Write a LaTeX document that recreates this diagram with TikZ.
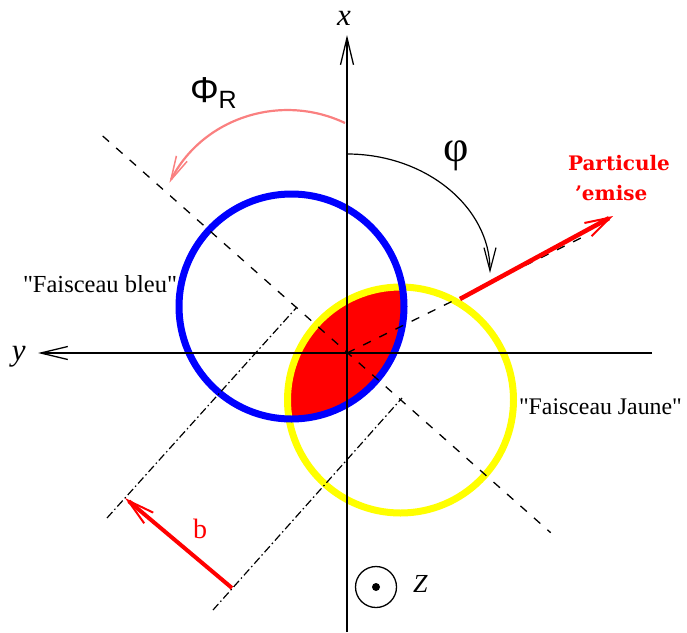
\documentclass[tikz,border=0pt]{standalone}
\usepackage{fontspec}
\setmainfont{Liberation Serif}[Ligatures=TeXOff]
\setsansfont{Liberation Sans}[Ligatures=TeXOff]
\newfontfamily\djserif{DejaVu Serif}[Ligatures=TeXOff]
\usetikzlibrary{arrows.meta}
\definecolor{beamblue}{RGB}{0,0,255}
\definecolor{beamyellow}{RGB}{255,255,0}
\definecolor{pinkarc}{RGB}{250,128,128}
\definecolor{partred}{RGB}{255,0,0}
\begin{document}
\begin{tikzpicture}[x=1pt,y=-1pt,
  axisline/.style={line width=1.3pt,-{Straight Barb[length=27pt,width=13pt]}},
  centerline/.style={line width=1.3pt,dash pattern=on 8.5pt off 9.5pt},
  dashdotline/.style={line width=1.2pt,dash pattern=on 8pt off 3pt on 1.5pt off 3pt},
  beam/.style={line width=7pt},
  lbl/.style={inner sep=0pt,outer sep=0pt},
]
\useasboundingbox (0,0) rectangle (687,632);

% coordinates
\coordinate (O) at (347,353);
\coordinate (Cb) at (291.5,306.5);
\coordinate (Cy) at (400.5,400);
\coordinate (xbot) at (347,632);
\coordinate (xtop) at (347,35);
\coordinate (yright) at (652,353);
\coordinate (yleft) at (38,353);
\coordinate (cl1) at (102.7,136);
\coordinate (cl2) at (550.7,532.7);
\coordinate (dd1a) at (107,518);
\coordinate (dd1b) at (297,307);
\coordinate (dd2a) at (213,610);
\coordinate (dd2b) at (402,398);
\coordinate (pdir) at (585,236);
\coordinate (pstart) at (460,299);
\coordinate (ptip) at (613,216);
\coordinate (btail) at (232,588);
\coordinate (btip) at (125,498);
\coordinate (phiRstart) at (345,123);
\coordinate (phistart) at (347,154);

% overlap region
\begin{scope}
  \clip (Cb) circle[radius=112.5];
  \fill[partred] (Cy) circle[radius=113];
\end{scope}

% beams
\draw[beam,beamyellow] (Cy) circle[radius=113];
\draw[beam,beamblue] (Cb) circle[radius=112.5];

% axes
\draw[axisline] (xbot) -- (xtop);
\draw[axisline] (yright) -- (yleft);

% reaction-plane line and impact-parameter lines
\draw[centerline] (cl1) -- (cl2);
\draw[dashdotline] (dd1a) -- (dd1b);
\draw[dashdotline] (dd2a) -- (dd2b);

% emitted particle
\draw[centerline] (O) -- (pdir);
\draw[partred,line width=4.5pt,-{Straight Barb[length=25pt,width=15pt,line width=2pt 0 1]}] (pstart) -- (ptip);

% impact parameter b
\draw[partred,line width=4pt,-{Straight Barb[length=27pt,width=14pt,line width=2pt 0 1]}] (btail) -- (btip);

% angle arcs
\draw[pinkarc,line width=2.2pt,-{Straight Barb[length=24pt,width=12pt,line width=1.5pt 0 1]}]
  (phiRstart) arc[start angle=-64.6,end angle=-153,radius=133];
\draw[line width=1.2pt,-{Straight Barb[length=23pt,width=12pt]}]
  (phistart) arc[start angle=-90,end angle=0,x radius=143,y radius=119];

% Z axis symbol
\node[draw,circle,line width=1.3pt,minimum size=41pt,inner sep=0pt] (zsym) at (376,587) {};
\fill (zsym.center) circle[radius=4pt];

% labels
\node[lbl,anchor=base] (xlab) at (344,25) {\fontsize{31}{31}\selectfont\itshape x};
\node[lbl,anchor=base west] (ylab) at (12,360) {\fontsize{31}{31}\selectfont\itshape y};
\node[lbl,anchor=base west] (zlab) at (413,592) {\fontsize{26}{26}\selectfont\itshape Z};
\node[lbl,anchor=base west] (phiR) at (190,102) {\sffamily\fontsize{36}{36}\selectfont Φ\raisebox{-6pt}{\fontsize{25}{25}\selectfont R}};
\node[lbl] (philab) at (456,156) {\fontsize{44}{44}\selectfont φ};
\node[lbl,anchor=base,text=partred] (blab) at (200,538) {\fontsize{28}{28}\selectfont b};
\node[lbl,anchor=base west] (bleu) at (23,292) {\fontsize{24.5}{29}\selectfont "Faisceau bleu"};
\node[lbl,anchor=base west] (jaune) at (519,414) {\fontsize{23.8}{29}\selectfont "Faisceau Jaune"};
\node[lbl,anchor=base west,text=partred] (part1) at (568,170) {\djserif\bfseries\fontsize{20}{24}\selectfont Particule};
\node[lbl,anchor=base west,text=partred] (part2) at (575,200) {\djserif\bfseries\fontsize{20}{24}\selectfont ’emise};
\end{tikzpicture}
\end{document}
